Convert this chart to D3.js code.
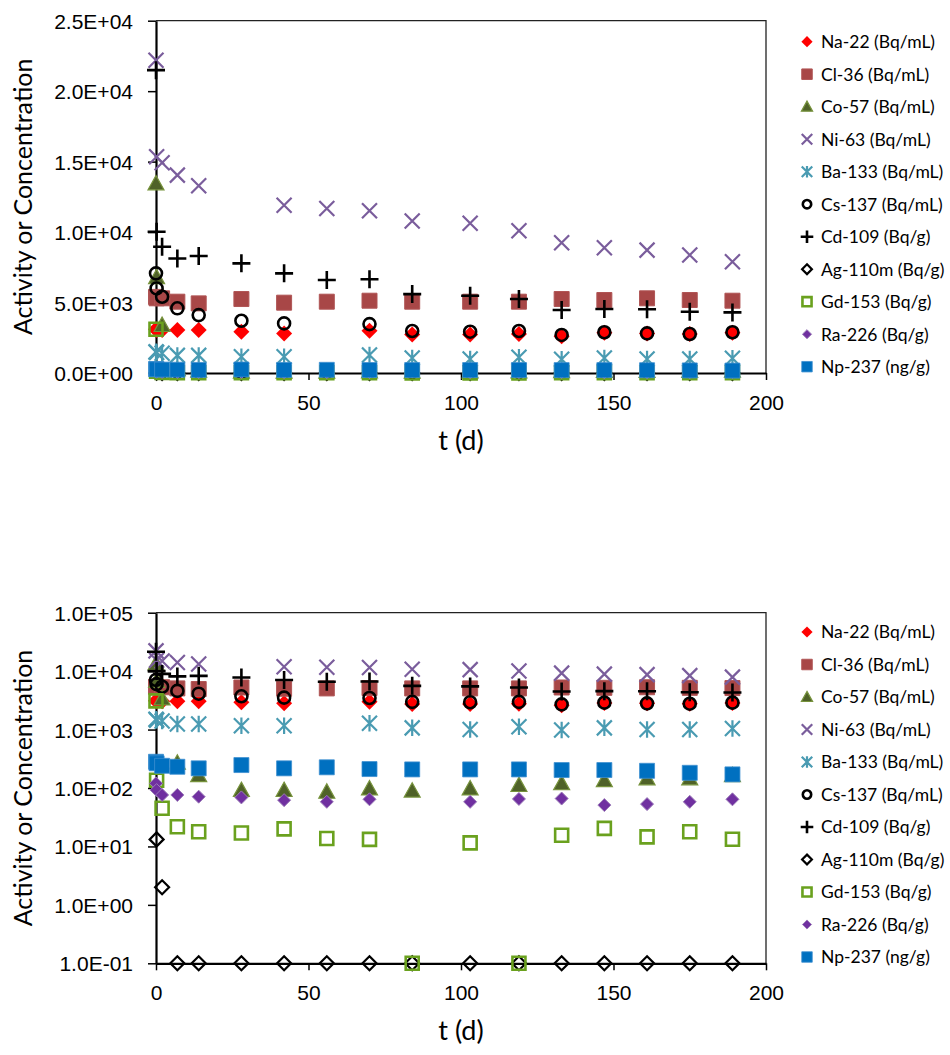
<!DOCTYPE html>
<html>
<head>
<meta charset="utf-8">
<script src="https://cdn.jsdelivr.net/npm/d3@7"></script>
<style>
  body { margin: 0; background: #fff; }
  svg { display: block; font-family: Lato, "Open Sans", sans-serif; }
</style>
</head>
<body>
<svg id="chart" width="950" height="1055"></svg>
<script>
// sampling times (days)
const days = [0, 0.2, 2, 7, 14, 28, 42, 56, 70, 84, 103, 119, 133, 147, 161, 175, 189];

// values (null = no point)
const na22  = [3100, 3050, 3050, 3050, 3050, 2930, 2810, 0, 3000, 2740, 2740, 2760, 2600, 2850, 2810, 2770, 2850];
const cl36  = [5400, 5300, 5300, 5060, 4940, 5250, 4990, 5060, 5130, 5060, 5060, 5060, 5250, 5180, 5300, 5180, 5130];
const co57  = [13450, 6800, 3400, 270, 165, 92, 92, 86, 98, 90, 98, 112, 120, 136, 146, 146, 165];
const ni63  = [22200, 15340, 14920, 14040, 13290, null, 11900, 11680, 11510, 10780, 10620, 10090, 9240, 8890, 8720, 8370, 7890];
const ba133 = [1500, 1450, 1400, 1250, 1250, 1160, 1160, null, 1280, 1070, 1000, 1120, 980, 1070, 1000, 1000, 1040];
const cs137 = [7070, 6000, 5410, 4590, 4110, 3710, 3520, null, 3470, 2980, 2930, 2980, 2700, 2890, 2810, 2770, 2890];
const cd109 = [21490, 10020, 8960, 8130, 8300, 7780, 7070, 6600, 6650, 5600, 5480, 5250, 4470, 4540, 4520, 4350, 4300];
const ag110m = [null, 13.2, 2.0, 0.1, 0.1, 0.1, 0.1, 0.1, 0.1, 0.1, 0.1, 0.1, 0.1, 0.1, 0.1, 0.1, 0.1];
const gd153 = [3100, 136, 45, 21.7, 17.8, 17, 20, 13.7, 13.2, 0.1, 11.5, 0.1, 15.5, 20.4, 14.6, 17.8, 13.3];
const ra226 = [120, 92, 76, 76, 71, 69, 62, 58, 64, null, 58, 65, 66, 51, 53, 58, 64];
const np237 = [281, 265, 240, 231, 217, 247, 217, 226, 211, 208, 208, 208, 203, 203, 197, 182, 171];

const seriesNames = ["Na-22 (Bq/mL)", "Cl-36 (Bq/mL)", "Co-57 (Bq/mL)", "Ni-63 (Bq/mL)", "Ba-133 (Bq/mL)",
  "Cs-137 (Bq/mL)", "Cd-109 (Bq/g)", "Ag-110m (Bq/g)", "Gd-153 (Bq/g)", "Ra-226 (Bq/g)", "Np-237 (ng/g)"];
const linTicks = [0, 5000, 10000, 15000, 20000, 25000];
const logTicks = [0.1, 1, 10, 100, 1000, 10000, 100000];
const xTicks = [0, 50, 100, 150, 200];

// marker looks: shape, fill, stroke
const looks = [
  {shape: "diamond", fill: "#ff0000", stroke: "#ff0000", sw: 0, r: 8},
  {shape: "square", fill: "#a84747", stroke: "#b05555", sw: 1, r: 7.5},
  {shape: "triangle", fill: "#4f6228", stroke: "#77933c", sw: 1.2, r: 8},
  {shape: "x", fill: "none", stroke: "#7a5d9c", sw: 2.2, r: 7.5},
  {shape: "star", fill: "none", stroke: "#4a9bb2", sw: 2.2, r: 7.5},
  {shape: "circle", fill: "none", stroke: "#000", sw: 2.6, r: 6},
  {shape: "plus", fill: "none", stroke: "#000", sw: 2.6, r: 9},
  {shape: "diamond", fill: "none", stroke: "#000", sw: 2.2, r: 7},
  {shape: "square", fill: "none", stroke: "#6aa11e", sw: 2.6, r: 6.5},
  {shape: "diamond", fill: "#7030a0", stroke: "#9b7bb8", sw: 1, r: 6.5},
  {shape: "square", fill: "#0070c0", stroke: "#3d8fd0", sw: 0.8, r: 7.5}
];
const allValues = [na22, cl36, co57, ni63, ba133, cs137, cd109, ag110m, gd153, ra226, np237];
const series = seriesNames.map((name, i) => ({name: name, look: looks[i], values: allValues[i]}));

function markerPath(shape, r) {
  if (shape === "diamond") return `M0,${-r}L${r},0L0,${r}L${-r},0Z`;
  if (shape === "square") return `M${-r},${-r}H${r}V${r}H${-r}Z`;
  if (shape === "triangle") return `M0,${-r}L${r},${r * 0.8}H${-r}Z`;
  if (shape === "x") return `M${-r},${-r}L${r},${r}M${-r},${r}L${r},${-r}`;
  if (shape === "plus") return `M${-r},0H${r}M0,${-r}V${r}`;
  if (shape === "star") return `M${-r},${-r}L${r},${r}M${-r},${r}L${r},${-r}M0,${-r * 1.1}V${r * 1.1}`;
  if (shape === "circle") return `M${r},0A${r},${r} 0 1,1 ${-r},0A${r},${r} 0 1,1 ${r},0Z`;
}

function sci(v) {
  if (v === 0) return "0.0E+00";
  let e = Math.floor(Math.log10(v) + 1e-9);
  let m = v / Math.pow(10, e);
  return m.toFixed(1) + "E" + (e < 0 ? "-" : "+") + String(Math.abs(e)).padStart(2, "0");
}

const svg = d3.select("#chart");

function drawChart(top, bottom, y, yTicks, isLog, legendTop) {
  const left = 156, right = 766;
  const x = d3.scaleLinear().domain([0, 200]).range([left, right]);
  y.range([bottom, top]);
  const g = svg.append("g");

  // plot area border (top & right)
  g.append("path")
    .attr("d", `M${left},${top}H${right}V${bottom}`)
    .attr("fill", "none").attr("stroke", "#222").attr("stroke-width", 1.3);

  const yAxis = g.append("g").attr("transform", `translate(${left},0)`)
    .call(d3.axisLeft(y).tickValues(yTicks).tickFormat(sci).tickSize(8).tickSizeOuter(0));
  const xAxis = g.append("g").attr("transform", `translate(0,${bottom})`)
    .call(d3.axisBottom(x).tickValues(xTicks).tickSize(7).tickSizeOuter(0));
  [yAxis, xAxis].forEach(a => {
    a.select(".domain").attr("stroke", "#000").attr("stroke-width", 2.2);
    a.selectAll(".tick line").attr("stroke", "#000").attr("stroke-width", 1.5);
    a.selectAll("text").attr("fill", "#000").style("font-size", "21px");
  });
  yAxis.selectAll("text").attr("x", -23).attr("dy", "0.36em");
  xAxis.selectAll("text").attr("y", 22);

  g.append("text")
    .attr("transform", `translate(32,${(top + bottom) / 2}) rotate(-90)`)
    .attr("text-anchor", "middle").style("font-size", "25px").text("Activity or Concentration");
  g.append("text")
    .attr("x", (left + right) / 2).attr("y", bottom + 77)
    .attr("text-anchor", "middle").style("font-size", "27px").text("t (d)");

  series.forEach(s => {
    const pts = days.map((d, i) => ({d: d, v: s.values[i]}))
      .filter(p => p.v !== null && (!isLog || p.v > 0));
    g.append("g").selectAll("path").data(pts).join("path")
      .attr("transform", p => `translate(${x(p.d)},${y(p.v)})`)
      .attr("d", markerPath(s.look.shape, s.look.r))
      .attr("fill", s.look.fill)
      .attr("stroke", s.look.sw ? s.look.stroke : "none")
      .attr("stroke-width", s.look.sw);
  });

  // legend
  const lg = g.append("g").attr("transform", `translate(807,${legendTop})`);
  series.forEach((s, i) => {
    const row = lg.append("g").attr("transform", `translate(0,${i * 32.5})`);
    const k = 0.7;
    row.append("path")
      .attr("d", markerPath(s.look.shape, s.look.r * k))
      .attr("fill", s.look.fill)
      .attr("stroke", s.look.sw ? s.look.stroke : "none")
      .attr("stroke-width", s.look.sw);
    row.append("text").attr("x", 14).attr("dy", "0.36em")
      .style("font-size", "17.5px").text(s.name);
  });
}

drawChart(20.7, 373, d3.scaleLinear().domain([0, 25000]), linTicks, false, 41.7);
drawChart(612.7, 963.3, d3.scaleLog().domain([0.1, 100000]), logTicks, true, 632);
</script>
</body>
</html>
